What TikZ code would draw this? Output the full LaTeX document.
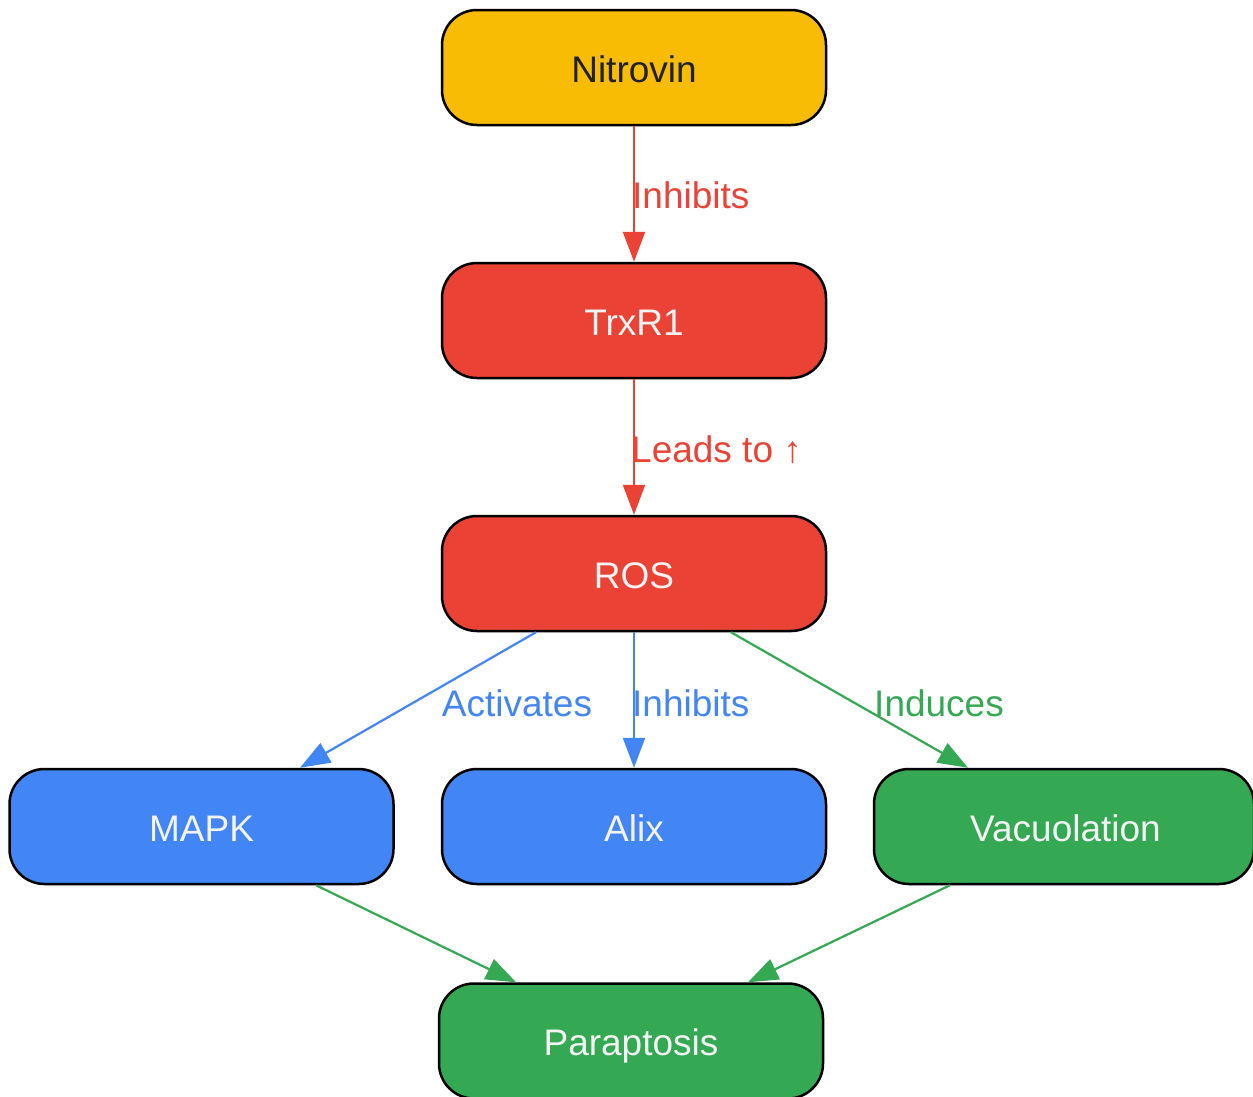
\documentclass[tikz,border=0pt]{standalone}
\usepackage{fontspec}
\setmainfont{Liberation Sans}
\usetikzlibrary{arrows.meta}
\definecolor{gy}{HTML}{F9BC05}
\definecolor{gr}{HTML}{EA4335}
\definecolor{gb}{HTML}{4285F4}
\definecolor{gg}{HTML}{34A853}
\definecolor{tw}{HTML}{F3F3F3}
\definecolor{td}{HTML}{202124}
\begin{document}
\begin{tikzpicture}[x=1pt,y=-1pt,
  box/.style={draw=black, line width=2.5pt, rounded corners=35pt, minimum width=384pt, minimum height=115pt, inner sep=0pt, text height=29pt, text depth=0pt, text=tw, font=\fontsize{37}{42}\selectfont},
  lbl/.style={font=\fontsize{37}{42}\selectfont, inner sep=0pt},
  conn/.style={line width=2.2pt, -{Triangle[length=30pt,width=22pt]}}]
\useasboundingbox (0,0) rectangle (1253,1096);
\clip (0,0) rectangle (1253,1096);
\node[box, fill=gy, text=td] (nit) at (634,67.5) {Nitrovin};
\node[box, fill=gr] (trx) at (634,320.5) {TrxR1};
\node[box, fill=gr] (ros) at (634,573.5) {ROS};
\node[box, fill=gb] (mapk) at (201.5,826.5) {MAPK};
\node[box, fill=gb] (alix) at (634,826.5) {Alix};
\node[box, fill=gg, minimum width=380pt] (vac) at (1064,826.5) {\hspace*{3pt}Vacuolation};
\node[box, fill=gg] (par) at (631,1041) {Paraptosis};

\draw[conn, gr] (nit) -- (trx);
\node[lbl, text=gr, anchor=west] (l1) at (632,195) {Inhibits};
\draw[conn, gr] (trx) -- (ros);
\node[lbl, text=gr, anchor=west] (l2) at (631,450) {Leads to ↑};

\draw[conn, gb] ([xshift=-98pt]ros.south) -- ([xshift=98.5pt]mapk.north);
\node[lbl, text=gb] (l3) at (517,703) {Activates};
\draw[conn, gb] (ros) -- (alix);
\node[lbl, text=gb, anchor=west] (l4) at (632,703) {Inhibits};
\draw[conn, gg] ([xshift=97pt]ros.south) -- ([xshift=-96pt]vac.north);
\node[lbl, text=gg] (l5) at (939,703) {Induces};

\draw[conn, gg] ([xshift=114.5pt]mapk.south) -- ([xshift=-115pt]par.north);
\draw[conn, gg] ([xshift=-114pt]vac.south) -- ([xshift=117pt]par.north);
\end{tikzpicture}
\end{document}
